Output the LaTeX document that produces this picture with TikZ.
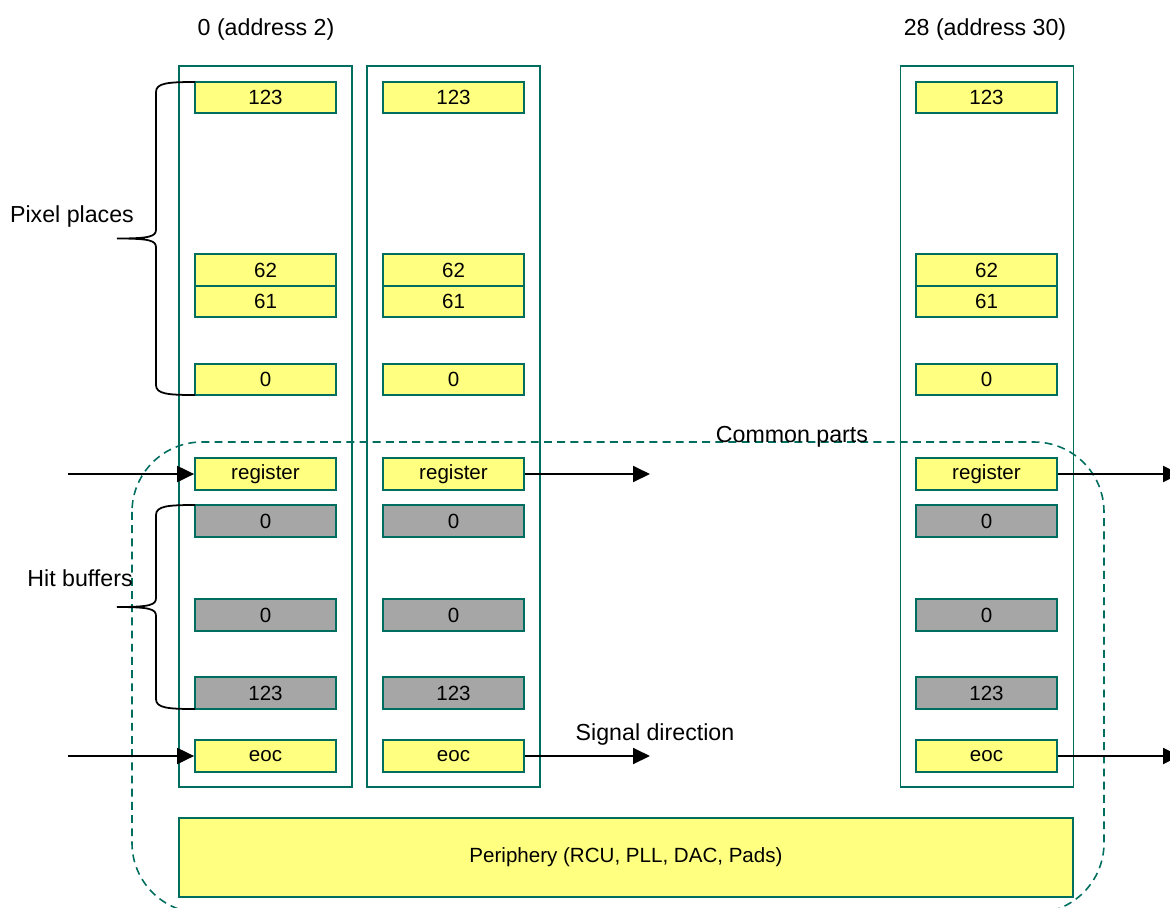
\documentclass[tikz,border=0pt]{standalone}
\usepackage{fontspec}
\setmainfont{Liberation Sans}
\usetikzlibrary{arrows.meta}

\definecolor{frameteal}{RGB}{0,110,95}
\definecolor{cellyellow}{RGB}{255,255,128}
\definecolor{hitgray}{RGB}{166,166,166}

\newcommand{\cellfont}{\fontsize{11.7}{13}\selectfont}
\newcommand{\headfont}{\fontsize{13.2}{15}\selectfont}

% curly bracket on the left of a stack of cells, #1 = top, #2 = bottom
\newcommand{\sidebrace}[2]{%
  \draw[line width=1pt] (195,#1) .. controls (168,#1) and (156,#1+1) .. (156,#1+10)
    -- (156,{(#1+#2)/2-9}) .. controls (156,{(#1+#2)/2-2}) and (150,{(#1+#2)/2}) .. (117,{(#1+#2)/2})
    .. controls (150,{(#1+#2)/2}) and (156,{(#1+#2)/2+2}) .. (156,{(#1+#2)/2+9})
    -- (156,#2-10) .. controls (156,#2-1) and (168,#2) .. (195,#2);}

\tikzset{
  column/.style={draw=frameteal, line width=0.9pt, minimum width=3.46cm, minimum height=14.42cm, inner sep=0pt},
  pixel/.style={draw=frameteal, fill=cellyellow, line width=1pt, minimum width=2.82cm, minimum height=0.63cm, inner sep=0pt, font=\cellfont},
  hit/.style={pixel, fill=hitgray},
  headtext/.style={font=\headfont, inner sep=0pt},
  signal/.style={-{Triangle[length=0.34cm,width=0.32cm]}, line width=1.1pt},
}

\begin{document}
\begin{tikzpicture}[x=0.02cm, y=-0.02cm]
  \useasboundingbox (0,0) rectangle (1170,907);

  % double columns
  \node[column] (C1) at (265.5, 426.5) {};
  \node[column] (C2) at (453.5, 426.5) {};
  \node[column] (C3) at (987, 426.5) {};

  \node[headtext] (A1) at (266, 29) {0 (address 2)};
  \node[headtext] (A3) at (985, 29) {28 (address 30)};

  % first column
  \node[pixel] (T1) at (265.5, 97.5) {123};
  \node[pixel] (P1) at (265.5, 270) {62};
  \node[pixel] (Q1) at (265.5, 301.5) {61};
  \node[pixel] (Z1) at (265.5, 379.5) {0};
  \node[pixel] (R1) at (265.5, 474) {register};
  \node[hit] (H1) at (265.5, 521) {0};
  \node[hit] (G1) at (265.5, 615) {0};
  \node[hit] (B1) at (265.5, 693) {123};
  \node[pixel] (E1) at (265.5, 756) {eoc};

  % second column
  \node[pixel] (T2) at (453.5, 97.5) {123};
  \node[pixel] (P2) at (453.5, 270) {62};
  \node[pixel] (Q2) at (453.5, 301.5) {61};
  \node[pixel] (Z2) at (453.5, 379.5) {0};
  \node[pixel] (R2) at (453.5, 474) {register};
  \node[hit] (H2) at (453.5, 521) {0};
  \node[hit] (G2) at (453.5, 615) {0};
  \node[hit] (B2) at (453.5, 693) {123};
  \node[pixel] (E2) at (453.5, 756) {eoc};

  % last column
  \node[pixel] (T3) at (986.5, 97.5) {123};
  \node[pixel] (P3) at (986.5, 270) {62};
  \node[pixel] (Q3) at (986.5, 301.5) {61};
  \node[pixel] (Z3) at (986.5, 379.5) {0};
  \node[pixel] (R3) at (986.5, 474) {register};
  \node[hit] (H3) at (986.5, 521) {0};
  \node[hit] (G3) at (986.5, 615) {0};
  \node[hit] (B3) at (986.5, 693) {123};
  \node[pixel] (E3) at (986.5, 756) {eoc};

  \node[pixel, minimum width=17.88cm, minimum height=1.58cm] (PH) at (626, 857.5) {Periphery (RCU, PLL, DAC, Pads)};

  % common parts outline, runs off the bottom
  \draw[frameteal, line width=0.9pt, dash pattern=on 4.5pt off 3pt, rounded corners=1.4cm] (132,442) rectangle (1104,913);
  \node[headtext] (CP) at (792, 437) {Common parts};

  % braces
  \sidebrace{82}{395}
  \node[headtext] (PP) at (72, 216) {Pixel places};
  \sidebrace{505}{709}
  \node[headtext] (HB) at (80, 578) {Hit buffers};

  % signal arrows
  \coordinate (inR) at (68, 474);
  \coordinate (inE) at (68, 756);
  \coordinate (outR2) at (650, 474);
  \coordinate (outE2) at (650, 756);
  \coordinate (outR3) at (1180, 474);
  \coordinate (outE3) at (1180, 756);
  \draw[signal] (inR) -- (R1);
  \draw[signal] (inE) -- (E1);
  \draw[signal] (R2) -- (outR2);
  \draw[signal] (E2) -- (outE2);
  \draw[signal] (R3) -- (outR3);
  \draw[signal] (E3) -- (outE3);
  \node[headtext] (SD) at (655, 734) {Signal direction};
\end{tikzpicture}
\end{document}
